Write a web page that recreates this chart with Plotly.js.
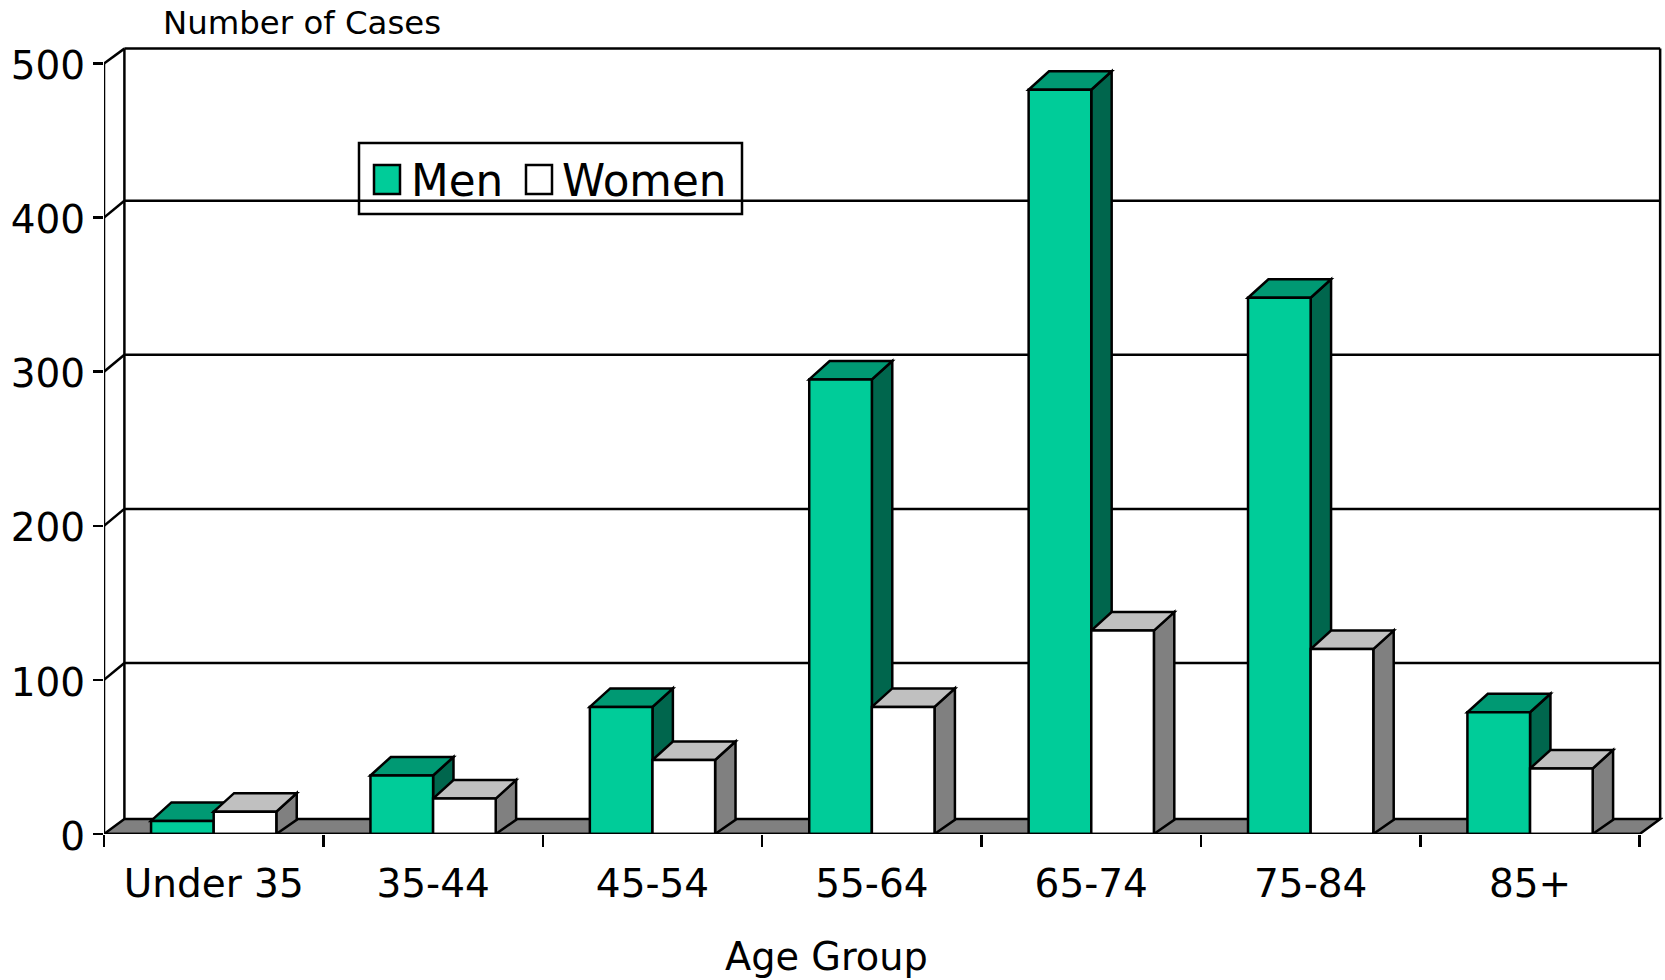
<!DOCTYPE html>
<html>
<head>
<meta charset="utf-8">
<script src="https://cdn.plot.ly/plotly-3.0.1.min.js"></script>
<style>html,body{margin:0;padding:0;background:#fff;overflow:hidden}#chart{width:1665px;height:980px}</style>
</head>
<body>
<div id="chart"></div>
<script>
// Reported cases by age group and sex
const ageGroups = ['Under 35', '35-44', '45-54', '55-64', '65-74', '75-84', '85+'];
const men = [8.5, 38, 82.5, 295, 483, 348, 79];
const women = [14.5, 23, 48, 82.5, 132, 120, 42.5];
const yTicks = [0, 100, 200, 300, 400, 500];

const FONT = '"DejaVu Sans", sans-serif';
const INK = '#000';
const LINE_W = 2.5;

// Faux-3D extrusion, in axis units
const DEPTH_X = 0.093;
const BAR_RISE = 12;
const GRID_RISE = 11;
const FLOOR_RISE = 9.7;
const BAR_W = 0.2855;
const X_MIN = -0.5, X_MAX = 6.5;

const poly = (pts, fill) => ({
  type: 'path', xref: 'x', yref: 'y', layer: 'below',
  path: 'M' + pts.map(p => p[0] + ',' + p[1]).join('L') + 'Z',
  fillcolor: fill, line: {color: INK, width: LINE_W}
});
const seg = (x0, y0, x1, y1, layer) => ({
  type: 'line', xref: 'x', yref: 'y', layer: layer || 'below',
  x0, y0, x1, y1, line: {color: INK, width: LINE_W}
});

// Side and top faces of one extruded bar
function bar3d(left, value, topFill, sideFill) {
  const right = left + BAR_W;
  return [
    poly([[right, 0], [right + DEPTH_X, FLOOR_RISE * 0.95], [right + DEPTH_X, value + BAR_RISE], [right, value]], sideFill),
    poly([[left, value], [left + DEPTH_X, value + BAR_RISE], [right + DEPTH_X, value + BAR_RISE], [right, value]], topFill)
  ];
}

const shapes = [];
// Back wall, floor and gridlines
shapes.push(poly([[X_MIN, 0], [X_MAX, 0], [X_MAX + DEPTH_X, FLOOR_RISE], [X_MIN + DEPTH_X, FLOOR_RISE]], '#808080'));
yTicks.slice(1, -1).forEach(v => {
  shapes.push(seg(X_MIN, v, X_MIN + DEPTH_X, v + GRID_RISE));
  shapes.push(seg(X_MIN + DEPTH_X, v + GRID_RISE, X_MAX + DEPTH_X, v + GRID_RISE));
});
const yMax = yTicks[yTicks.length - 1];
shapes.push(seg(X_MIN, yMax, X_MIN + DEPTH_X, yMax + FLOOR_RISE));
shapes.push(seg(X_MIN + DEPTH_X, yMax + FLOOR_RISE, X_MAX + DEPTH_X, yMax + FLOOR_RISE));
shapes.push(seg(X_MIN + DEPTH_X, FLOOR_RISE, X_MIN + DEPTH_X, yMax + FLOOR_RISE));
shapes.push(seg(X_MAX + DEPTH_X, FLOOR_RISE, X_MAX + DEPTH_X, yMax + FLOOR_RISE));

// Extruded faces, back to front within each group
ageGroups.forEach((_, i) => {
  shapes.push(...bar3d(i - BAR_W, men[i], '#009973', '#00664D'));
  shapes.push(...bar3d(i, women[i], '#C0C0C0', '#808080'));
});

// Front axis lines
shapes.push(seg(X_MIN, 0, X_MIN, yMax, 'above'));
shapes.push(seg(X_MIN, 0, X_MAX, 0, 'above'));

// Page pixels to paper coordinates of the plot area
const W = 1665, H = 980;
const MARGIN = {l: 104, r: 2, t: 46, b: 146};
const px = x => (x - MARGIN.l) / (W - MARGIN.l - MARGIN.r);
const py = y => 1 - (y - MARGIN.t) / (H - MARGIN.t - MARGIN.b);
const paperRect = (x0, y0, x1, y1, fill) => ({
  type: 'rect', xref: 'paper', yref: 'paper', layer: 'below',
  fillcolor: fill, line: {color: INK, width: LINE_W},
  x0: px(x0), y0: py(y0), x1: px(x1), y1: py(y1)
});
const paperText = (text, x, y, size, xanchor) => ({
  xref: 'paper', yref: 'paper', x: px(x), y: py(y), xanchor: xanchor || 'left', yanchor: 'middle',
  text, showarrow: false, font: {family: FONT, size, color: INK}
});

const traces = [
  {type: 'bar', name: 'Men', x: ageGroups, y: men,
   marker: {color: '#00CC99', line: {color: INK, width: LINE_W}}},
  {type: 'bar', name: 'Women', x: ageGroups, y: women,
   marker: {color: '#FFFFFF', line: {color: INK, width: LINE_W}}}
];

const layout = {
  width: W, height: H,
  margin: MARGIN,
  paper_bgcolor: '#fff', plot_bgcolor: '#fff',
  showlegend: false,
  barmode: 'group',
  bargap: 1 - 2 * BAR_W,
  bargroupgap: 0,
  font: {family: FONT, color: INK},
  xaxis: {
    type: 'category',
    categoryorder: 'array', categoryarray: ageGroups,
    range: [X_MIN, 6.606],
    tickson: 'boundaries',
    ticks: 'outside', ticklen: 12, tickwidth: LINE_W, tickcolor: INK,
    ticklabelstandoff: 23,
    tickfont: {family: FONT, size: 39, color: INK},
    showgrid: false, showline: false, zeroline: false
  },
  yaxis: {
    range: [0, 511.4],
    tickvals: yTicks,
    ticks: 'outside', ticklen: 10, tickwidth: LINE_W, tickcolor: INK,
    ticklabelshift: 2,
    tickfont: {family: FONT, size: 39, color: INK},
    showgrid: false, showline: false, zeroline: false
  },
  shapes: [
    ...shapes,
    paperRect(359, 143, 742, 214, '#fff'),
    paperRect(374, 165, 400, 194, '#00CC99'),
    paperRect(526, 165, 552, 194, '#fff')
  ],
  annotations: [
    paperText('Number of Cases', 161, 23, 32.4),
    paperText('Age Group', 826, 956, 38.3, 'center'),
    paperText('Men', 409, 180, 43.7),
    paperText('Women', 560, 180, 43.7)
  ]
};

Plotly.newPlot('chart', traces, layout, {displayModeBar: false, staticPlot: true});
</script>
</body>
</html>
